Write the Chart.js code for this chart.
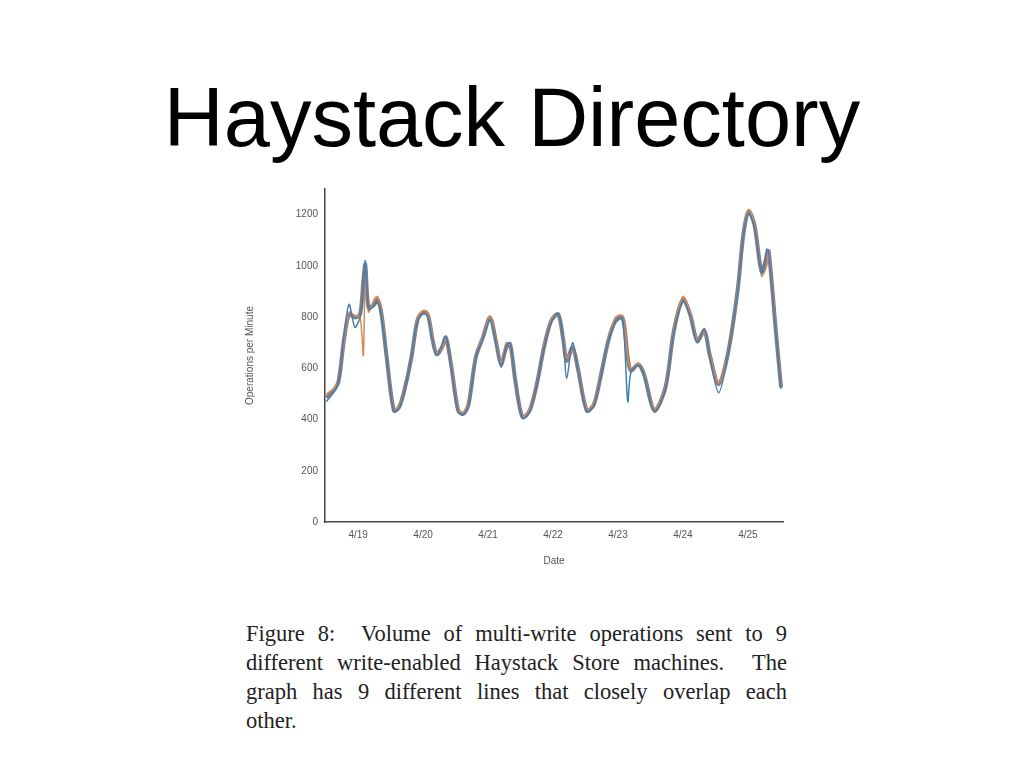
<!DOCTYPE html>
<html>
<head>
<meta charset="utf-8">
<script src="https://cdn.jsdelivr.net/npm/chart.js@4"></script>
<style>
  body { margin: 0; width: 1024px; height: 768px; background: #fff; position: relative; overflow: hidden; }
  #title { position: absolute; top: 70px; left: 0; width: 1024px; text-align: center;
           font-family: "Liberation Sans", Arial, sans-serif; font-size: 83px; color: #000; white-space: nowrap; }
  #wrap { position: absolute; left: 240px; top: 180px; width: 560px; height: 400px; }
  #caption { position: absolute; left: 246px; top: 619px; width: 541px;
             font-family: "Liberation Serif", "Times New Roman", serif; font-size: 22.5px; line-height: 29px; color: #222; }
  #caption div { text-align: justify; text-align-last: justify; white-space: nowrap; }
  #caption div.last { text-align-last: left; }
</style>
</head>
<body>
<div id="title">Haystack Directory</div>
<div id="wrap"><canvas id="c"></canvas></div>
<div id="caption">
  <div>Figure 8: &nbsp;Volume of multi-write operations sent to 9</div>
  <div>different write-enabled Haystack Store machines. &nbsp;The</div>
  <div>graph has 9 different lines that closely overlap each</div>
  <div class="last">other.</div>
</div>
<script>
// days (4/19 = 19)
const days = [18.51,18.62,18.70,18.78,18.86,18.95,19.03,19.08,19.11,19.16,19.25,19.30,19.36,19.44,19.55,19.63,19.71,19.82,19.91,19.99,
  20.07,20.15,20.21,20.29,20.35,20.43,20.54,20.62,20.70,20.81,20.92,21.03,21.12,21.20,21.28,21.34,21.42,21.53,21.64,21.75,
  21.86,21.97,22.08,22.16,22.21,22.30,22.38,22.52,22.63,22.74,22.85,22.96,23.07,23.15,23.20,23.31,23.40,23.56,23.73,23.86,
  24.00,24.11,24.22,24.33,24.41,24.55,24.69,24.84,24.93,25.01,25.10,25.21,25.29,25.32,25.43,25.51];
const opsMain = [486,512,551,707,811,798,811,940,1005,837,850,869,811,642,435,448,512,642,785,817,
  811,707,655,681,720,616,435,422,460,642,720,798,707,616,681,694,551,409,435,538,
  681,785,811,707,629,681,603,435,460,577,707,785,798,642,590,616,577,435,525,746,
  869,811,707,746,655,538,655,902,1122,1213,1161,979,1031,1057,746,525];
const opsBlue = [470,505,548,720,850,760,800,900,1020,830,845,860,805,640,430,445,508,645,780,812,
  805,700,650,690,725,610,430,418,455,640,715,790,700,605,690,700,548,405,430,535,
  680,780,812,700,560,700,600,430,455,575,705,780,795,470,585,612,575,430,520,740,
  860,805,700,755,650,505,650,898,1118,1205,1150,970,1065,1050,740,520];
const opsOrange = [500,520,555,700,820,805,800,650,960,820,870,880,815,645,440,452,515,640,790,825,
  820,712,660,675,715,620,440,428,465,645,725,805,712,622,700,690,555,412,440,540,
  685,790,808,712,640,670,606,440,465,580,710,800,805,645,600,620,580,440,530,750,
  880,818,712,740,660,542,660,905,1125,1220,1165,960,1000,1060,750,530];
const dayLabels = ['4/19','4/20','4/21','4/22','4/23','4/24','4/25'];
const yTicks = [0,200,400,600,800,1000,1200];

function toPoints(vals) {
  return vals.map((v, i) => ({ x: days[i], y: v }));
}

const tickFont = { family: 'Liberation Sans', size: 10 };

new Chart(document.getElementById('c').getContext('2d'), {
  type: 'line',
  data: {
    datasets: [
      { data: toPoints(opsBlue), borderColor: '#3f7fb8', borderWidth: 1.5 },
      { data: toPoints(opsOrange), borderColor: '#d9895a', borderWidth: 1.5 },
      { data: toPoints(opsMain), borderColor: '#8a7c78', borderWidth: 4 }
    ]
  },
  options: {
    responsive: true,
    maintainAspectRatio: false,
    animation: false,
    elements: { point: { radius: 0 }, line: { tension: 0.3 } },
    layout: { padding: { top: 7, right: 17, left: 0, bottom: 13 } },
    plugins: { legend: { display: false }, tooltip: { enabled: false } },
    scales: {
      x: {
        type: 'linear', min: 18.49, max: 25.54,
        afterBuildTicks: axis => { axis.ticks = dayLabels.map((l, i) => ({ value: 19 + i })); },
        ticks: { callback: (v) => dayLabels[Math.round(v) - 19], color: '#555', font: tickFont, maxRotation: 0 },
        grid: { display: false, drawTicks: true, tickLength: 4 },
        border: { color: '#444', width: 1.5 },
        title: { display: true, text: 'Date', color: '#555', font: tickFont, padding: 0 },
        afterFit: axis => { axis.height = 45; }
      },
      y: {
        min: 0, max: 1300,
        afterBuildTicks: axis => { axis.ticks = yTicks.map(v => ({ value: v })); },
        ticks: { color: '#555', font: tickFont, callback: v => String(v) },
        grid: { display: false, tickLength: 4 },
        border: { color: '#444', width: 1.5 },
        title: { display: true, text: 'Operations per Minute', color: '#555', font: tickFont },
        afterFit: axis => { axis.width = 85; }
      }
    }
  }
});
</script>
</body>
</html>
